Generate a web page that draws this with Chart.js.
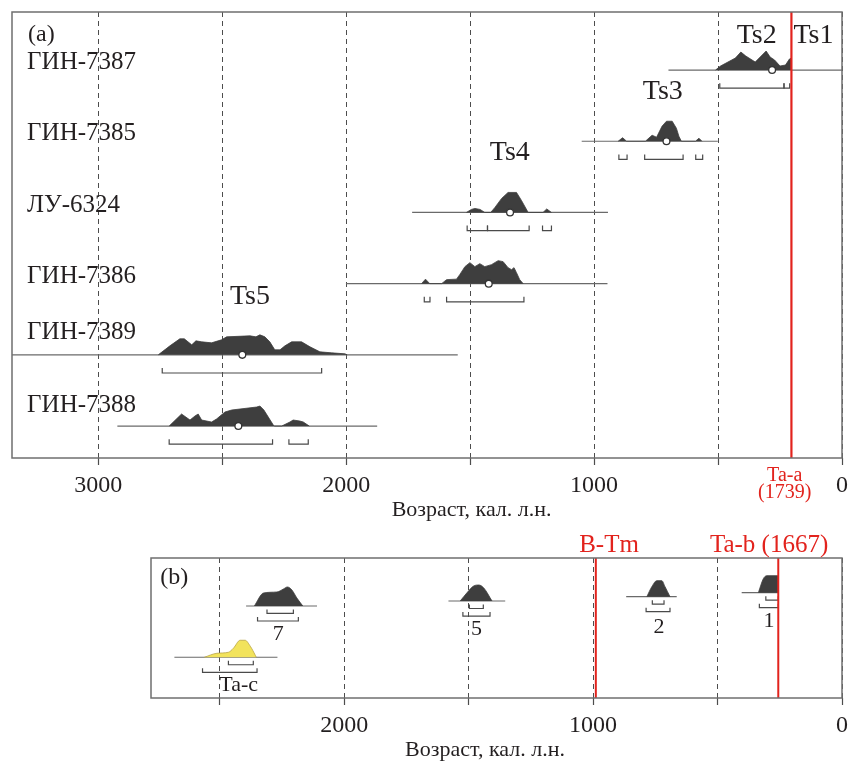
<!DOCTYPE html>
<html>
<head>
<meta charset="utf-8">
<script src="https://cdn.jsdelivr.net/npm/chart.js@4.4.1/dist/chart.umd.min.js"></script>
<style>
    html, body { margin: 0; padding: 0; background: #fff; }
    #wrap { position: relative; width: 857px; height: 762px; }
    #wrap canvas { position: absolute; left: 0; top: 0; }
</style>
</head>
<body>
<div id="wrap">
    <canvas id="chartA" width="857" height="762"></canvas>
    <canvas id="chartB" width="857" height="762"></canvas>
</div>
<script>
"use strict";

// ---- panel (a): ages in cal. BP, densities
const ticksA = [0, 500, 1000, 1500, 2000, 2500, 3000];
const tickLabelsA = ["0", "", "1000", "", "2000", "", "3000"];
const samplesA = ["ГИН-7387", "ГИН-7385", "ЛУ-6324", "ГИН-7386", "ГИН-7389", "ГИН-7388"];
const spansA = [[700, 0], [1050, 501], [1734, 944], [2001, 946], [3348, 1550], [2923, 1875]];
const mediansA = [282, 708, 1339, 1425, 2419, 2435];
const rangesA = [
    [[493, 234], [234, 211]],
    [[900, 867], [796, 641], [590, 562]],
    [[1512, 1430], [1430, 1262], [1208, 1172]],
    [[1685, 1662], [1595, 1283]],
    [[2742, 2099]],
    [[2714, 2297], [2231, 2153]]
];
const densGin7387 = [[510, 0], [490, 4], [460, 8], [430, 12], [408, 18], [388, 14], [350, 8], [306, 19], [290, 13], [272, 10], [250, 4], [228, 5], [212, 11], [204, 12], [204, 0]];
const densGin7385 = [[903, 0], [885, 3.5], [869, 0], [793, 0], [766, 6], [748, 4], [726, 15], [708, 20], [685, 20], [668, 13], [658, 5], [648, 0], [591, 0], [577, 3], [565, 0]];
const densLu6324 = [[1515, 0], [1495, 3], [1481, 4], [1460, 3], [1441, 0], [1417, 0], [1400, 5], [1373, 14], [1347, 20], [1313, 20], [1293, 12], [1266, 0], [1206, 0], [1191, 3.5], [1172, 0]];
const densGin7386 = [[1696, 0], [1680, 4.5], [1663, 0], [1615, 0], [1595, 4], [1555, 4.5], [1542, 9], [1521, 17], [1501, 21], [1481, 17], [1461, 20], [1441, 17], [1414, 19], [1387, 23], [1367, 22], [1347, 16], [1333, 14], [1323, 16], [1313, 11], [1300, 4], [1286, 0]];
const densGin7389 = [[2758, 0], [2711, 9], [2671, 16], [2653, 16], [2623, 10], [2606, 14], [2583, 13], [2543, 12], [2503, 15], [2482, 18], [2388, 19], [2364, 18], [2348, 20], [2328, 18], [2308, 13], [2288, 5], [2267, 5], [2247, 9], [2220, 13], [2180, 13], [2146, 8], [2106, 3], [2059, 2], [2005, 1], [1996, 0]];
const densGin7388 = [[2714, 0], [2664, 12], [2630, 6], [2610, 10], [2597, 12], [2583, 6], [2543, 4], [2523, 7], [2489, 14], [2462, 16], [2361, 19], [2348, 20], [2332, 16], [2294, 1], [2290, 0], [2260, 0], [2227, 4], [2214, 6], [2187, 5], [2173, 4], [2149, 0]];
const densA = [densGin7387, densGin7385, densLu6324, densGin7386, densGin7389, densGin7388];
const taA = 204; // Ta-a (1739)

// ---- panel (b)
const ticksB = [0, 500, 1000, 1500, 2000, 2500];
const tickLabelsB = ["0", "", "1000", "", "2000", ""];
const samplesB = ["7", "5", "2", "1", "Ta-c"];
const spansB = [[2394, 2109], [1581, 1353], [867, 664], [403, 256], [2682, 2268]];
const innerB = [[2310, 2204], [1497, 1441], [762, 715], [306, 256], [2465, 2365]];
const outerB = [[2348, 2184], [1523, 1414], [787, 691], [332, 256], [2569, 2350]];
const dens7 = [[2361, 0], [2324, 13], [2270, 14], [2244, 17], [2228, 19], [2210, 16], [2190, 8], [2166, 0]];
const dens5 = [[1534, 0], [1504, 9], [1480, 15], [1459, 16], [1439, 13], [1406, 0]];
const dens2 = [[784, 0], [764, 10], [744, 16], [724, 16], [711, 10], [691, 0]];
const dens1 = [[336, 0], [316, 14], [302, 17], [260, 17], [256, 17], [256, 0]];
const densTaC = [[2562, 0], [2511, 4], [2465, 5], [2445, 9], [2418, 17], [2398, 17], [2377, 11], [2357, 2], [2353, 0]];
const densB = [dens7, dens5, dens2, dens1, densTaC];
const btmB = 989;  // B-Tm
const tabB = 256;  // Ta-b (1667)

// ---- layout / style
const fontFam = '"Liberation Serif", "Times New Roman", serif';
const ink = "#231f20";
const darkFill = "#3e3e3e";
const red = "#e2231d";
const densK = 1 / 71.2;
const levelsB = [1.292, 1.362, 1.423, 1.479, 0.572];

const lineDs = (points, color, width, order) => ({
    type: "line", data: points, borderColor: color, borderWidth: width,
    pointRadius: 0, fill: false, tension: 0, order
});

const areaDs = (dens, level, color, edge, smooth) => ({
    type: "line",
    data: dens.map(([age, p]) => ({ x: age, y: level + p * densK })),
    borderColor: edge, backgroundColor: color, borderWidth: 0.8,
    pointRadius: 0, fill: { value: level },
    tension: smooth ? 0.4 : 0,
    cubicInterpolationMode: smooth ? "monotone" : "default",
    order: 2
});

const bracketDs = ([from, to], level, h) => lineDs([
    { x: from, y: level + h }, { x: from, y: level },
    { x: to, y: level }, { x: to, y: level + h }
], "#4a4a4a", 1.2, 3);

const buildA = () => {
    const ds = [];
    samplesA.forEach((name, i) => {
        const lvl = 5 - i;
        ds.push(lineDs(spansA[i].map((a) => ({ x: a, y: lvl })), "#6a6a6a", 1.2, 3));
        ds.push(areaDs(densA[i], lvl, darkFill, darkFill, false));
        rangesA[i].forEach((r) => ds.push(bracketDs(r, lvl - 0.255, 0.07)));
        ds.push({
            type: "line", data: [{ x: mediansA[i], y: lvl }], showLine: false,
            pointRadius: 3.4, pointBackgroundColor: "#fff", pointBorderColor: "#333",
            pointBorderWidth: 1.3, order: 0
        });
    });
    ds.push(lineDs([{ x: taA, y: -0.449 }, { x: taA, y: 5.815 }], red, 2.2, 1));
    return ds;
};

const buildB = () => {
    const ds = [];
    samplesB.forEach((name, i) => {
        const lvl = levelsB[i];
        const yellow = name === "Ta-c";
        ds.push(lineDs(spansB[i].map((a) => ({ x: a, y: lvl })), "#6a6a6a", 1.2, 3));
        ds.push(areaDs(densB[i], lvl, yellow ? "#f2e35c" : darkFill, yellow ? "#b9a545" : darkFill, true));
        ds.push(bracketDs(innerB[i], lvl - 0.105, 0.056));
        ds.push(bracketDs(outerB[i], lvl - 0.211, 0.056));
    });
    ds.push(lineDs([{ x: btmB, y: 0 }, { x: btmB, y: 1.966 }], red, 2, 1));
    ds.push(lineDs([{ x: tabB, y: 0 }, { x: tabB, y: 1.966 }], red, 2, 1));
    return ds;
};

// texts placed in data coordinates (age, y)
const textsA = [
    { text: "(a)", age: 3283, y: 5.492, size: 24, align: "left" },
    ...samplesA.map((s, i) => ({ text: s, age: 3287, y: [5.113, 4.116, 3.104, 2.107, 1.321, 0.295][i], size: 25, align: "left" })),
    { text: "Ts1", age: 196, y: 5.478, size: 28, align: "left" },
    { text: "Ts2", age: 344, y: 5.478, size: 28 },
    { text: "Ts3", age: 723, y: 4.691, size: 28 },
    { text: "Ts4", age: 1340, y: 3.835, size: 28 },
    { text: "Ts5", age: 2388, y: 1.812, size: 28 },
    { text: "Ta-a", age: 231, y: -0.702, size: 20, color: red },
    { text: "(1739)", age: 231, y: -0.941, size: 20, color: red },
    { text: "Возраст, кал. л.н.", age: 1494, y: -1.179, size: 22 }
];

const textsB = [
    { text: "(b)", age: 2739, y: 1.685, size: 24, align: "left" },
    { text: "7", age: 2265, y: 0.899, size: 22 },
    { text: "5", age: 1468, y: 0.969, size: 22 },
    { text: "2", age: 735, y: 0.997, size: 22 },
    { text: "1", age: 293, y: 1.081, size: 22 },
    { text: "Ta-c", age: 2424, y: 0.183, size: 22 },
    { text: "B-Tm", age: 936, y: 2.149, size: 25, color: red },
    { text: "Ta-b (1667)", age: 293, y: 2.149, size: 25, color: red },
    { text: "Возраст, кал. л.н.", age: 1434, y: -0.730, size: 22 }
];

const textPlugin = (items) => ({
    id: "texts",
    afterDraw(chart) {
        const { ctx, chartArea: a, scales: { x, y } } = chart;
        ctx.save();
        ctx.strokeStyle = "#6f6f6f";
        ctx.lineWidth = 1.5;
        ctx.strokeRect(a.left, a.top, a.right - a.left, a.bottom - a.top);
        items.forEach((t) => {
            ctx.font = `${t.size}px ${fontFam}`;
            ctx.fillStyle = t.color || ink;
            ctx.textAlign = t.align || "center";
            ctx.textBaseline = "middle";
            ctx.fillText(t.text, x.getPixelForValue(t.age), y.getPixelForValue(t.y));
        });
        ctx.restore();
    }
});

const xAxis = (max, tickVals, tickLabels) => ({
    type: "linear", reverse: true, min: 0, max,
    afterBuildTicks: (s) => { s.ticks = tickVals.map((v) => ({ value: v })); },
    afterFit: (s) => { s.height = 50; },
    grid: { color: "#4d4d4d", lineWidth: 1, tickLength: 7, tickColor: "#4d4d4d", tickWidth: 1.2, tickBorderDash: [] },
    border: { display: false, dash: [5, 4] },
    ticks: {
        autoSkip: false, maxRotation: 0, padding: 6, color: ink,
        font: { family: fontFam, size: 24 },
        callback: (v) => tickLabels[tickVals.indexOf(v)] ?? ""
    }
});

const makeChart = (id, datasets, xCfg, yMin, yMax, padding, texts) => new Chart(document.getElementById(id), {
    type: "line",
    data: { datasets },
    options: {
        responsive: false, animation: false, events: [],
        layout: { padding },
        plugins: { legend: { display: false }, tooltip: { enabled: false } },
        scales: { x: xCfg, y: { type: "linear", display: false, min: yMin, max: yMax } }
    },
    plugins: [textPlugin(texts)]
});

makeChart("chartA", buildA(), xAxis(3348, ticksA, tickLabelsA), -0.449, 5.815,
    { left: 12, top: 12, right: 15, bottom: 254 }, textsA);
makeChart("chartB", buildB(), xAxis(2776, ticksB, tickLabelsB), 0, 1.966,
    { left: 151, top: 558, right: 15, bottom: 14 }, textsB);
</script>
</body>
</html>
